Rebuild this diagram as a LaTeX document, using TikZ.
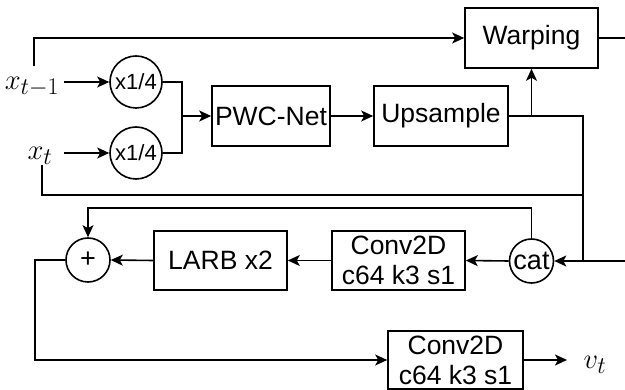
\documentclass[tikz,border=0pt]{standalone}
\usepackage{fontspec}
\setmainfont{Liberation Sans}
\usetikzlibrary{arrows.meta,calc}
% math labels are set at the largest fixed math size and enlarged
\newcommand{\biglbl}[1]{\scalebox{1.15}{\fontsize{24.88}{30}\selectfont$#1$}}

\begin{document}
\begin{tikzpicture}[x=1pt,y=-1pt,line width=1.6pt,
  blk/.style={draw,rectangle,inner sep=0pt,align=center,
    font=\fontsize{26.5}{30}\selectfont},
  opc/.style={draw,circle,inner sep=0pt,minimum size=52pt,
    font=\fontsize{22}{24}\selectfont},
  sop/.style={opc,minimum size=44pt,font=\fontsize{27}{30}\selectfont},
  arr/.style={-{Stealth[length=12pt,width=11pt,inset=3pt]}},
  lbl/.style={inner sep=0pt}]
\useasboundingbox (0,0) rectangle (625,390);

% blocks
\node[blk,minimum width=133pt,minimum height=60pt] (warp) at (531.5,38) {Warping};
\node[blk,minimum width=118pt,minimum height=60pt] (pwc) at (271,116) {PWC-Net};
\node[blk,minimum width=134pt,minimum height=60pt] (ups) at (441,116) {Upsample};
\node[blk,minimum width=133pt,minimum height=59pt] (larb) at (220.5,260.5) {LARB x2};
\node[blk,minimum width=133pt,minimum height=59pt] (conv1) at (398.5,260.5) {Conv2D\\c64 k3 s1};
\node[blk,minimum width=135pt,minimum height=58pt] (conv2) at (455.5,360) {Conv2D\\c64 k3 s1};

% operators
\node[opc] (d1) at (136,82) {x1/4};
\node[opc] (d2) at (136,153) {x1/4};
\node[sop] (cat) at (531.5,261) {cat};
\node[sop] (add) at (88,260) {+};

% input / output labels
\node[lbl] (xp) at (32,87) {\biglbl{x_{t-1}}};
\node[lbl] (xc) at (40,156) {\biglbl{x_t}};
\node[lbl] (vt) at (595,365) {\biglbl{v_t}};

% junctions and free ends
\coordinate (xpo) at (64,82);
\coordinate (xco) at (64,153);
\coordinate (mj) at (182,116);
\coordinate (rj) at (583,261);
\coordinate (tj) at (583,195);
\coordinate (rin) at (625,261);
\coordinate (wout) at (625,38);
\coordinate (vo) at (567,360);

% upper path
\draw[arr] ([xshift=2pt]xp.north) ++(0,-10) |- (warp.west);
\draw[arr] (xpo) -- (d1.west);
\draw[arr] (xco) -- (d2.west);
\draw (d1.east) -| (mj);
\draw (d2.east) -| (mj);
\draw[arr] (mj) -- (pwc.west);
\draw[arr] (pwc.east) -- (ups.west);
\draw[arr] (ups.east -| warp.south) -- (warp.south);
\draw (ups.east) -| (rj);
\draw ([xshift=2pt]xc.south) |- (tj);
\draw (warp.east) -- (wout);

% lower path
\draw[arr] (rin) -- (cat.east);
\draw[arr] (cat.west) -- (conv1.east);
\draw[arr] (conv1.west) -- (larb.east);
\draw[arr] (larb.west) -- (add.east);
\draw[arr] (cat.north) -- ++(0,-30) -| (add.north);
\draw[arr] (add.west) -- ++(-30,0) |- (conv2.west);
\draw[arr] (conv2.east) -- (vo);
\end{tikzpicture}
\end{document}
